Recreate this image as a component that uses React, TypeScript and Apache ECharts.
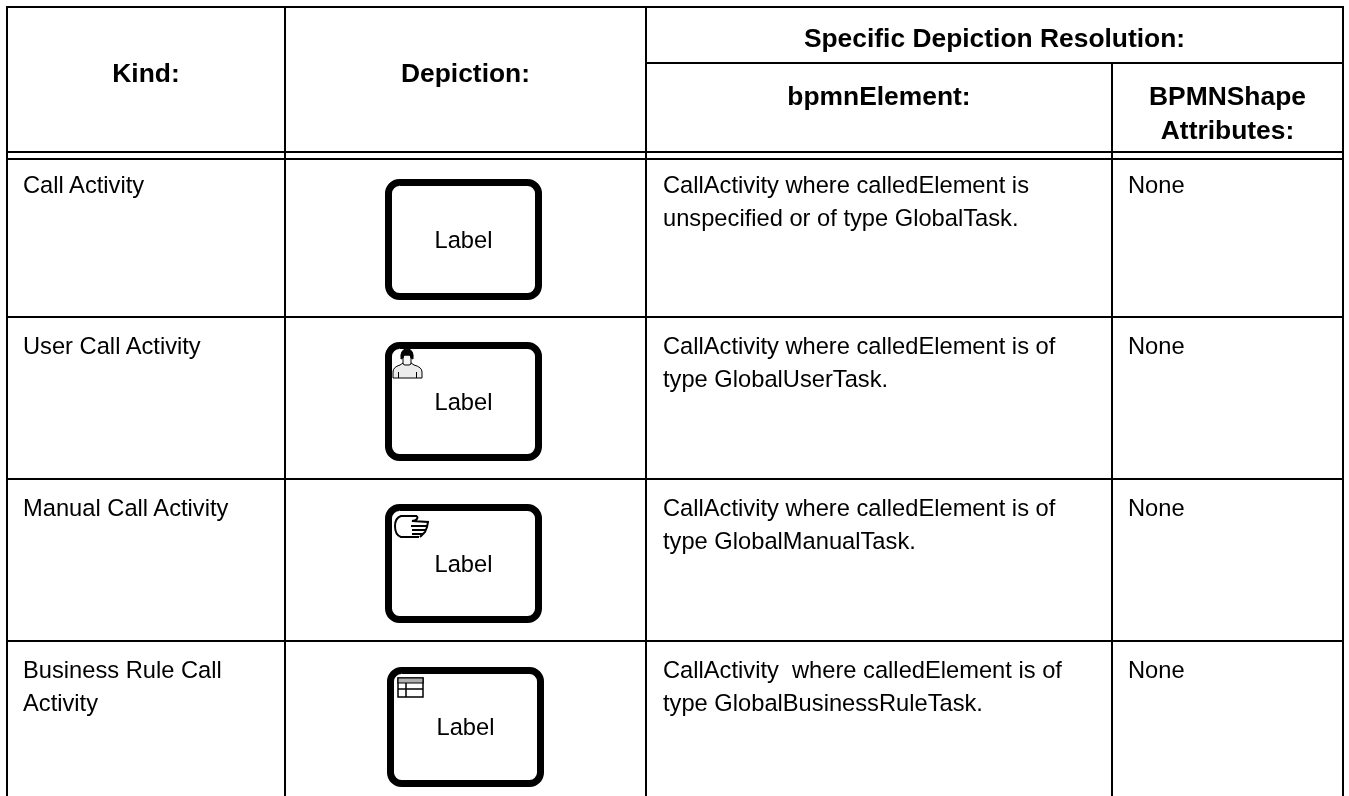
import React, { useEffect, useRef } from "react";
import * as echarts from "echarts";

const kinds = [["Call Activity"], ["User Call Activity"], ["Manual Call Activity"], ["Business Rule Call", "Activity"]];
const elements = [
  ["CallActivity where calledElement is", "unspecified or of type GlobalTask."],
  ["CallActivity where calledElement is of", "type GlobalUserTask."],
  ["CallActivity where calledElement is of", "type GlobalManualTask."],
  ["CallActivity  where calledElement is of", "type GlobalBusinessRuleTask."],
];
const attributes = ["None", "None", "None", "None"];
const FONT = '"Liberation Sans", Arial, sans-serif';
const colX = [7, 285, 646, 1112, 1343];
const rowY = [7, 152, 159, 317, 479, 641];
const rowText = [185, 346, 508, 670];
const boxes = [[388.5, 182.5, 150, 114], [388.5, 345.5, 150, 112], [388.5, 507.5, 150, 112], [390.5, 670.5, 150, 113]];

const line = (x1: number, y1: number, x2: number, y2: number, w = 2, c = "#000") => ({
  type: "line", shape: { x1, y1, x2, y2 }, style: { stroke: c, lineWidth: w },
});
const text = (t: string, x: number, y: number, bold = false, align = "left") => ({
  type: "text", x, y,
  style: { text: t, fill: "#000", font: `${bold ? "bold 26.4px" : "23.7px"} ${FONT}`, textAlign: align, textVerticalAlign: "middle" },
});

echarts.graphic.registerShape("userBody", echarts.graphic.extendPath(
  "M393 378 L393 372 Q393 367 400 365 L403 363 L411 363 L414 365 Q422 367 422 372 L422 378 Z", {}));
echarts.graphic.registerShape("userHead", echarts.graphic.extendPath(
  "M401 359 Q400 349 407 349 Q414 349 413 359 L411 358 L410 355 L404 355 L403 358 Z", {}));
echarts.graphic.registerShape("hand", echarts.graphic.extendPath(
  "M417 516 L401 516 Q395 518 395 526 Q395 535 401 537 L419 537 M417 516 Q419 520 412 521 L428 522 L427 527 L425 532 L420 537", {}));

export default function App() {
  const ref = useRef<HTMLDivElement>(null);
  useEffect(() => {
    const chart = echarts.init(ref.current!, undefined, { renderer: "svg" });
    const g: any[] = [];
    rowY.forEach((y) => g.push(line(colX[0] - 1, y, colX[4] + 1, y)));
    g.push(line(colX[2], 63, colX[4], 63));
    [colX[0], colX[1], colX[2], colX[4]].forEach((x) => g.push(line(x, 7, x, 796)));
    g.push(line(colX[3], 63, colX[3], 796));

    g.push(text("Kind:", 146, 73, true, "center"));
    g.push(text("Depiction:", 465.5, 73, true, "center"));
    g.push(text("Specific Depiction Resolution:", 994.5, 38, true, "center"));
    g.push(text("bpmnElement:", 879, 96, true, "center"));
    g.push(text("BPMNShape", 1227.5, 96, true, "center"));
    g.push(text("Attributes:", 1227.5, 130, true, "center"));

    kinds.forEach((lines, i) => {
      const y0 = rowText[i];
      lines.forEach((t, j) => g.push(text(t, 23, y0 + j * 33)));
      elements[i].forEach((t, j) => g.push(text(t, 663, y0 + j * 33)));
      g.push(text(attributes[i], 1128, y0));
      const [x, y, w, h] = boxes[i];
      g.push({ type: "rect", shape: { x, y, width: w, height: h, r: 11 }, style: { fill: "#fff", stroke: "#000", lineWidth: 7 } });
      g.push(text("Label", x + w / 2, y + h / 2, false, "center"));
    });

    // user icon
    g.push({ type: "userBody", style: { fill: "#ececec", stroke: "#000", lineWidth: 1 } });
    g.push({ type: "rect", shape: { x: 403, y: 355, width: 8, height: 10, r: 2 }, style: { fill: "#f4f4f4", stroke: "#000", lineWidth: 1 } });
    g.push({ type: "userHead", style: { fill: "#000", stroke: "#000", lineWidth: 1 } });
    g.push(line(398.5, 372, 398.5, 378, 1));
    g.push(line(416.5, 372, 416.5, 378, 1));
    // manual icon
    g.push({ type: "hand", style: { fill: "none", stroke: "#000", lineWidth: 2 } });
    [[411, 526, 427, 526], [412, 530, 426, 530], [412, 534, 423, 534]].forEach(([a, b, c, d]) => g.push(line(a, b, c, d, 2)));
    // business rule icon
    g.push({ type: "rect", shape: { x: 398, y: 678, width: 25, height: 19 }, style: { fill: "#fff", stroke: "#000", lineWidth: 1.5 } });
    g.push({ type: "rect", shape: { x: 398, y: 678, width: 25, height: 5 }, style: { fill: "#b0b0b0", stroke: "#000", lineWidth: 1.2 } });
    g.push(line(398, 689, 423, 689, 1.5));
    g.push(line(406, 683, 406, 697, 1.5));

    chart.setOption({ animation: false, graphic: g });
    return () => chart.dispose();
  }, []);
  return <div ref={ref} style={{ position: "fixed", left: 0, top: 0, width: 1349, height: 796 }} />;
}
